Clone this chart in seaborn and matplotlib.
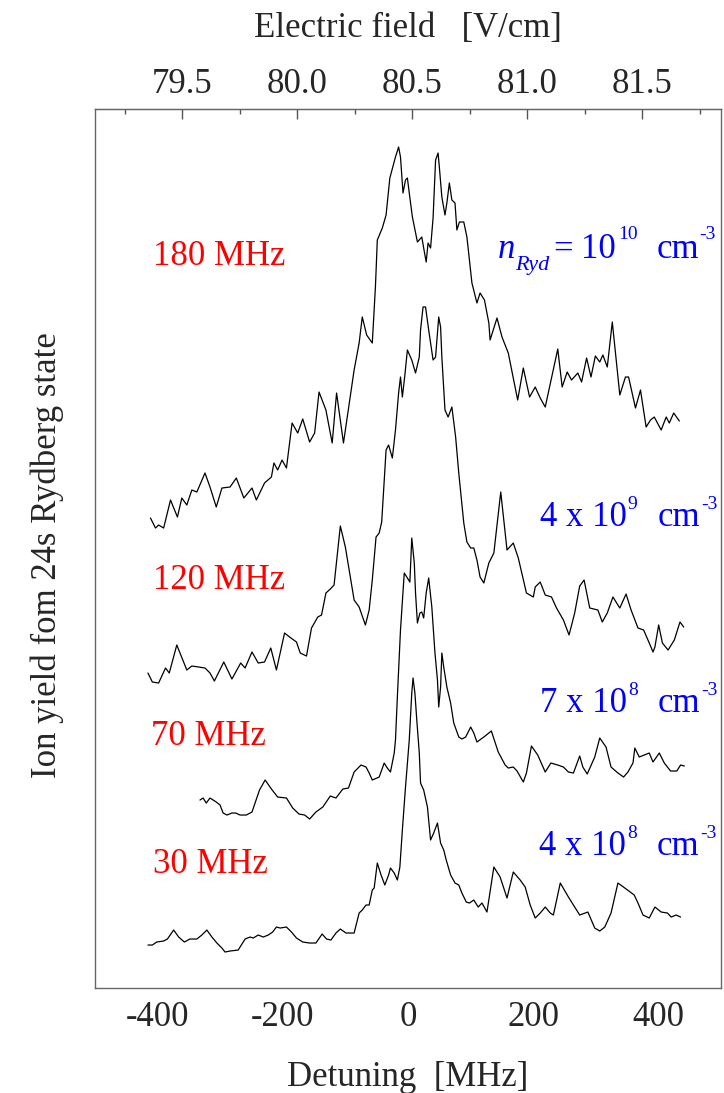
import numpy as np
import pandas as pd
import seaborn as sns
import matplotlib
matplotlib.use('Agg')
import matplotlib.pyplot as plt
from matplotlib.ticker import MultipleLocator, FixedLocator, FormatStrFormatter

# Detuning (MHz) and ion signal (arb. units)
det_180 = [-411, -403, -398, -390, -379, -368, -361, -353, -345, -337, -324, -316, -306, -297, -284, -274, -262, -249, -242, -229,
           -218, -214, -208, -201, -194, -185, -176, -168, -157, -149, -142, -131, -121, -114, -103, -86, -78, -73, -66, -57,
           -52, -49, -41, -35, -29, -20, -15, -12, -8, -4, -1, 2, 7, 15, 22, 25, 29, 32, 36, 40,
           44, 48, 50, 54, 59, 62, 66, 70, 75, 78, 82, 89, 94, 102, 110, 115, 122, 129, 131, 142,
           150, 160, 175, 184, 194, 203, 211, 219, 239, 246, 254, 261, 271, 277, 285, 292, 299, 306, 311, 318,
           326, 338, 347, 352, 363, 371, 380, 387, 393, 404, 412, 417, 424, 433]
sig_180 = [464, 454, 457, 454, 482, 465, 484, 477, 492, 490, 509, 495, 475, 494, 495, 504, 484, 494, 482, 499,
           505, 519, 512, 522, 514, 559, 549, 563, 540, 549, 590, 572, 539, 589, 539, 612, 639, 665, 647, 639,
           695, 742, 754, 767, 804, 825, 835, 825, 789, 802, 804, 789, 765, 740, 745, 734, 720, 739, 734, 764,
           822, 829, 815, 785, 767, 779, 799, 782, 779, 752, 760, 760, 745, 699, 679, 689, 682, 659, 642, 664,
           645, 629, 582, 614, 585, 595, 584, 575, 633, 595, 610, 602, 609, 600, 624, 605, 626, 620, 627, 615,
           660, 587, 605, 605, 574, 592, 555, 562, 565, 552, 565, 559, 569, 561]

det_120 = [-415, -408, -398, -387, -381, -369, -353, -345, -334, -324, -316, -309, -294, -281, -267, -260, -249, -239, -229, -219,
           -210, -197, -189, -178, -172, -162, -154, -144, -138, -131, -124, -118, -108, -100, -86, -78, -68, -62, -57, -51,
           -46, -42, -35, -31, -25, -20, -15, -12, -9, -5, -1, 6, 12, 18, 20, 24, 28, 33, 40, 44,
           49, 52, 54, 59, 64, 70, 76, 81, 89, 94, 100, 105, 110, 115, 121, 129, 137, 148, 158, 168,
           176, 189, 200, 203, 211, 219, 229, 237, 248, 257, 266, 274, 281, 290, 303, 310, 318, 327, 338, 348,
           356, 367, 376, 385, 391, 394, 400, 406, 415, 425, 434, 440]
sig_120 = [309, 300, 299, 314, 309, 337, 312, 316, 315, 314, 309, 301, 320, 303, 319, 314, 330, 319, 320, 334,
           312, 349, 345, 340, 329, 326, 354, 365, 367, 389, 393, 397, 456, 435, 382, 375, 357, 372, 402, 445,
           449, 460, 532, 537, 524, 552, 589, 605, 585, 607, 632, 622, 609, 625, 652, 675, 675, 652, 622, 625,
           665, 655, 625, 572, 565, 575, 545, 509, 459, 440, 434, 434, 422, 405, 399, 419, 429, 490, 432, 439,
           424, 389, 385, 395, 400, 387, 385, 374, 362, 347, 369, 396, 402, 374, 372, 360, 369, 385, 374, 388,
           372, 354, 352, 339, 330, 335, 357, 339, 332, 342, 360, 355]

det_70 = [-332, -327, -322, -316, -306, -300, -295, -289, -281, -275, -268, -258, -249, -237, -228, -218, -208, -194, -184, -174,
          -165, -157, -147, -136, -124, -115, -104, -95, -86, -75, -67, -62, -57, -46, -38, -33, -28, -22, -20, -17,
          -12, -6, -1, 3, 6, 10, 12, 15, 19, 22, 25, 29, 33, 38, 43, 47, 49, 52, 54, 57,
          62, 68, 73, 81, 86, 92, 100, 105, 110, 121, 133, 144, 155, 160, 168, 174, 184, 189, 197, 207,
          219, 228, 239, 248, 256, 264, 274, 279, 286, 298, 306, 316, 324, 335, 344, 351, 359, 362, 369, 377,
          385, 391, 401, 409, 419, 429, 435, 441]
sig_70 = [182, 184, 179, 184, 180, 177, 169, 167, 169, 169, 167, 167, 170, 192, 202, 193, 185, 184, 174, 168,
          167, 163, 170, 175, 186, 184, 193, 194, 210, 217, 215, 209, 202, 205, 219, 214, 210, 229, 242, 285,
          352, 409, 404, 400, 444, 419, 389, 359, 369, 370, 364, 389, 404, 375, 329, 302, 275, 295, 329, 315,
          295, 279, 259, 245, 243, 245, 255, 249, 240, 245, 251, 230, 217, 214, 215, 211, 200, 209, 236, 227,
          210, 219, 217, 215, 210, 209, 226, 215, 208, 225, 244, 235, 215, 209, 205, 210, 219, 234, 225, 227,
          229, 220, 229, 219, 211, 211, 217, 216]

det_30 = [-415, -408, -401, -390, -384, -374, -366, -357, -348, -337, -329, -321, -313, -305, -297, -292, -284, -271, -260, -252,
          -247, -239, -231, -223, -216, -210, -204, -194, -186, -178, -168, -157, -147, -137, -130, -123, -115, -108, -99, -86,
          -78, -73, -67, -62, -57, -54, -49, -43, -37, -31, -28, -22, -17, -13, -9, -4, 2, 6, 8, 11,
          14, 18, 20, 25, 31, 36, 41, 47, 52, 57, 61, 68, 75, 81, 86, 93, 98, 105, 112, 118,
          126, 137, 147, 158, 168, 179, 187, 195, 203, 211, 219, 227, 232, 243, 256, 264, 274, 287, 298, 306,
          314, 324, 335, 346, 361, 367, 375, 385, 394, 404, 414, 420, 428, 435]
sig_30 = [37, 37, 40, 41, 43, 52, 45, 40, 43, 43, 47, 52, 45, 39, 34, 30, 31, 32, 43, 45,
          44, 47, 45, 47, 50, 55, 54, 55, 50, 44, 40, 39, 39, 48, 43, 42, 49, 53, 49, 49,
          69, 72, 77, 77, 92, 94, 119, 107, 97, 107, 114, 109, 102, 115, 152, 195, 242, 289, 304, 289,
          262, 229, 199, 192, 175, 142, 149, 159, 139, 132, 122, 107, 99, 97, 89, 80, 79, 82, 75, 79,
          70, 115, 105, 84, 110, 102, 95, 77, 64, 69, 75, 69, 67, 99, 85, 77, 67, 70, 54, 51,
          55, 69, 99, 94, 87, 79, 67, 64, 75, 70, 69, 65, 67, 65]

field_ticks = [79.5, 80.0, 80.5, 81.0, 81.5]
field_minor = [79.25, 79.75, 80.25, 80.75, 81.25, 81.75]

width_labels = ['180 MHz', '120 MHz', '70 MHz', '30 MHz']
# density labels: (text, fontsize, style, gap px, rise px) pieces
density_labels = [
    [('n', 25, 'italic', 0, 0), ('Ryd', 16, 'italic', 0, -9), ('=', 25, 'normal', 4, 0), ('10', 25, 'normal', 8, 0),
     ('10', 14, 'normal', 2, 23), ('cm', 25, 'normal', 19, 0), ('-3', 14, 'normal', 0, 23)],
    [('4 x 10', 25, 'normal', 0, 0), ('9', 14, 'normal', 1, 21), ('cm', 25, 'normal', 20, 0), ('-3', 14, 'normal', 1, 21)],
    [('7 x 10', 25, 'normal', 0, 0), ('8', 14, 'normal', 1, 21), ('cm', 25, 'normal', 20, 0), ('-3', 14, 'normal', 1, 21)],
    [('4 x 10', 25, 'normal', 0, 0), ('8', 14, 'normal', 1, 21), ('cm', 25, 'normal', 20, 0), ('-3', 14, 'normal', 1, 21)],
]

# detuning -> electric field conversion for the top axis
E0 = 80.481       # V/cm at zero detuning
dE_dnu = 0.002725  # V/cm per MHz

sns.set_style('white')
plt.rcParams['font.family'] = ['Liberation Serif', 'DejaVu Serif']
plt.rcParams['axes.unicode_minus'] = False

fig = plt.figure(figsize=(7.24, 10.93), dpi=100)
ax = fig.add_axes([0.1308, 0.0965, 0.8655, 0.8035])

traces = [(det_180, sig_180), (det_120, sig_120), (det_70, sig_70), (det_30, sig_30)]
for det, sig in traces:
    sns.lineplot(x=det, y=sig, ax=ax, color='black', linewidth=0.9, estimator=None, sort=False)

ax.set_xlim(-500, 500)
ax.set_ylim(-5.5, 872.7)
ax.set_yticks([])
ax.xaxis.set_major_locator(MultipleLocator(200))
ax.xaxis.set_minor_locator(MultipleLocator(100))
ax.tick_params(axis='x', which='major', direction='in', length=7.5, width=1, color='#555555',
               labelsize=25, pad=9.5)
ax.tick_params(axis='x', which='minor', direction='in', length=3.5, width=1, color='#555555')
for sp in ax.spines.values():
    sp.set_color('#666666')
    sp.set_linewidth(1.0)

ax.set_xlabel('Detuning  [MHz]', fontsize=25, labelpad=20)
ax.set_ylabel('Ion yield fom 24s Rydberg state', fontsize=25)
ax.yaxis.set_label_coords(-0.049, 0.4925)

top = ax.secondary_xaxis('top', functions=(lambda d: E0 + dE_dnu * d,
                                           lambda e: (e - E0) / dE_dnu))
top.xaxis.set_major_locator(FixedLocator(field_ticks))
top.xaxis.set_minor_locator(FixedLocator(field_minor))
top.xaxis.set_major_formatter(FormatStrFormatter('%.1f'))
top.tick_params(which='major', direction='in', length=7.5, width=1, color='#555555', labelsize=25, pad=6)
top.tick_params(which='minor', direction='in', length=3.5, width=1, color='#555555')
top.spines['top'].set_color('#666666')
top.set_xlabel('Electric field   [V/cm]', fontsize=25, labelpad=22)

red_pos = [(0.0930, 0.8227), (0.0930, 0.4538), (0.0898, 0.2761), (0.0926, 0.1304)]
blue_pos = [(0.6435, 0.8304), (0.7106, 0.5253), (0.7106, 0.3140), (0.7090, 0.1509)]
for lab, (x, y) in zip(width_labels, red_pos):
    ax.text(x, y, lab, color='red', fontsize=25, transform=ax.transAxes, va='baseline', ha='left')

for pieces, (x, y) in zip(density_labels, blue_pos):
    txt, fs, style, _, _ = pieces[0]
    base = ax.text(x, y, txt, color='blue', fontsize=fs, style=style, transform=ax.transAxes,
                   va='baseline', ha='left')
    prev = base
    for txt, fs, style, gap, rise in pieces[1:]:
        prev = ax.annotate(txt, xy=(1, 0), xycoords=(prev, base), xytext=(gap, rise),
                           textcoords='offset pixels', color='blue', fontsize=fs, style=style,
                           va='bottom', ha='left')

fig.savefig('out.png', dpi=100)
